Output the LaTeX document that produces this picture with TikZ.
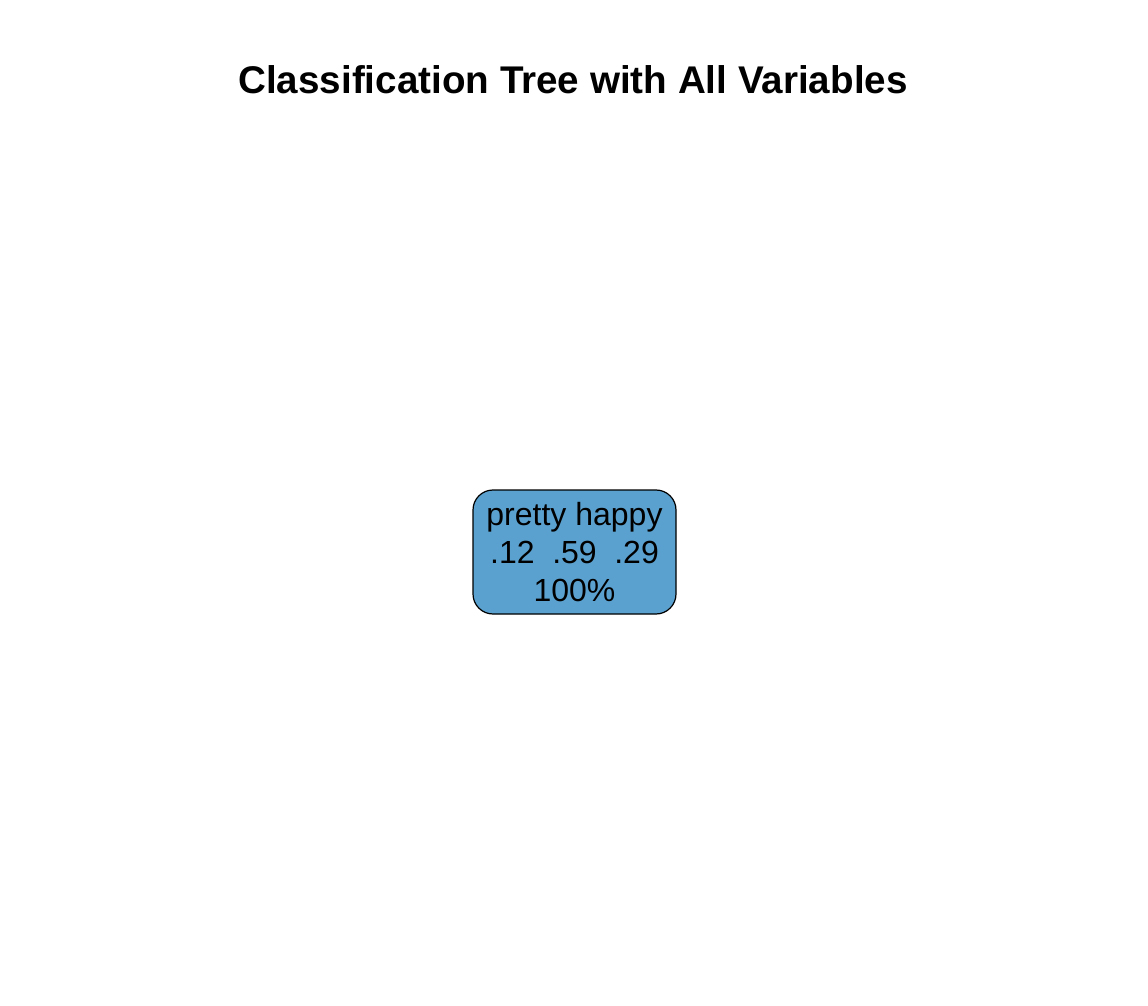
\documentclass[tikz,border=0pt]{standalone}
\usepackage{fontspec}
\setmainfont{Liberation Sans}
\usepackage{xcolor}
\usetikzlibrary{positioning}
\definecolor{treeblue}{RGB}{91,161,207}

\begin{document}
\begin{tikzpicture}[x=0.5pt, y=-0.5pt,
    heading/.style={anchor=base, font=\fontsize{19.3}{23}\selectfont\bfseries},
    leaf/.style={rectangle, draw=black, fill=treeblue, line width=0.6pt, rounded corners=10pt, minimum width=101.5pt, minimum height=62pt, inner sep=0pt, align=center, font=\fontsize{16}{19.2}\selectfont}]

\useasboundingbox[fill=white] (0,0) rectangle (1148,1006);

\node[heading] (title) at (573,94) {Classification Tree with All Variables};

\node[leaf] (root) at (574.5,552) {pretty happy\\.12\hspace{0.55em}.59\hspace{0.55em}.29\\100\%};
\end{tikzpicture}
\end{document}
